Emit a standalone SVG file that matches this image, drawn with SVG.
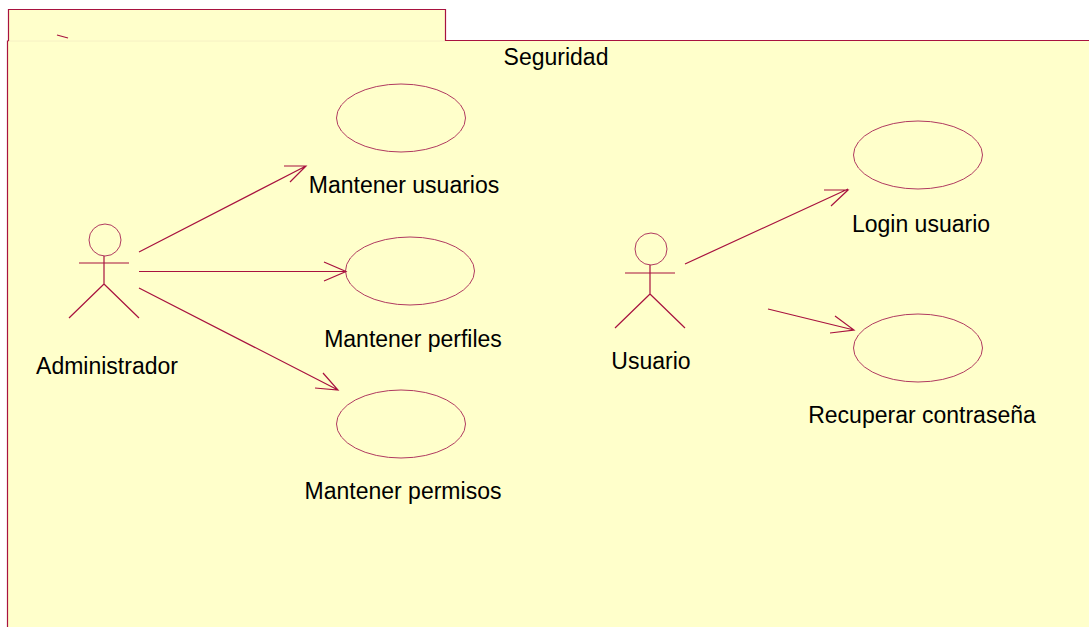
<svg xmlns="http://www.w3.org/2000/svg" width="1089" height="627" viewBox="0 0 1089 627">
<style>
.l{fill:none;stroke:#a8123f;stroke-width:1.200}
.u{fill:none;stroke:#b03a60;stroke-width:1}
.t{font-family:"Liberation Sans",Arial,sans-serif;font-size:23px;fill:#000}
</style>
<rect width="1089" height="627" fill="#fff"/>
<g id="package">
<path d="M8.500 41V9.500H445.500V41" fill="#ffffcb"/>
<rect x="7" y="41" width="1082" height="586" fill="#ffffcb"/>
<path d="M9 41H445" stroke="#f6f0c4" stroke-width="1" fill="none"/>
<path class="l" d="M8.500 41V9.500H445.500V40.500H1089"/>
<path class="l" d="M8.500 41H7.500V627"/>
<path class="l" d="M57 35L68 38"/>
<text class="t" x="556" y="65" text-anchor="middle">Seguridad</text>
</g>
<g id="uc-mantener-usuarios"><ellipse class="u" cx="401" cy="118" rx="64.500" ry="34"/><text class="t" x="404" y="193" text-anchor="middle">Mantener usuarios</text></g>
<g id="uc-mantener-perfiles"><ellipse class="u" cx="410" cy="271" rx="64.500" ry="34"/><text class="t" x="413" y="347" text-anchor="middle">Mantener perfiles</text></g>
<g id="uc-mantener-permisos"><ellipse class="u" cx="401" cy="424" rx="64.500" ry="34"/><text class="t" x="403" y="499" text-anchor="middle">Mantener permisos</text></g>
<g id="uc-login"><ellipse class="u" cx="918" cy="155" rx="64.500" ry="34"/><text class="t" x="921" y="232" text-anchor="middle">Login usuario</text></g>
<g id="uc-recuperar"><ellipse class="u" cx="918" cy="348" rx="64.500" ry="34"/><text class="t" x="922" y="423" text-anchor="middle">Recuperar contraseña</text></g>
<g id="actor-administrador">
<circle class="u" cx="105" cy="240" r="16"/>
<path class="l" d="M104 256V284M79 263H129M104 284L69 318M104 284L139 318"/>
<text class="t" x="107" y="374" text-anchor="middle">Administrador</text>
</g>
<g id="actor-usuario">
<circle class="u" cx="651" cy="249" r="16"/>
<path class="l" d="M650 265V294M625 273H675M650 294L615 328M650 294L685 328"/>
<text class="t" x="651" y="369" text-anchor="middle">Usuario</text>
</g>
<g id="connectors">
<path class="l" d="M139 252L306 166M284 166H306L290 182"/>
<path class="l" d="M139 271.500H346M324 262L346 271.500L324 281"/>
<path class="l" d="M139 288L338 390M315 388L338 390L323 373"/>
<path class="l" d="M685 264L848 189M824 190H848L831 206"/>
<path class="l" d="M768 309L854 330M835 316L854 330L830 333"/>
</g>
</svg>
